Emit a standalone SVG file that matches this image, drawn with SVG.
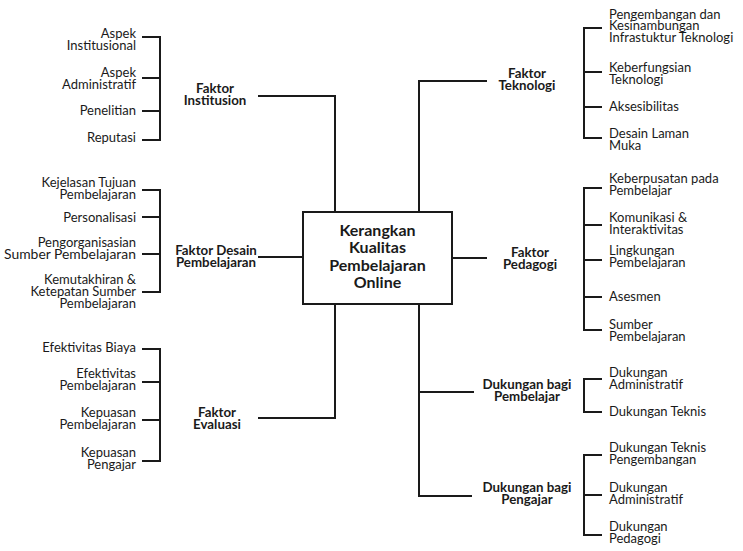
<svg xmlns="http://www.w3.org/2000/svg" width="743" height="551" viewBox="0 0 743 551">
<style>
.t{font-family:Lato,"Open Sans","DejaVu Sans",sans-serif;font-size:13px;fill:#1a1a1a}
.l{text-anchor:end}
.b{font-weight:bold;text-anchor:middle;font-size:13.3px}
.c{font-family:Lato,"Open Sans","DejaVu Sans",sans-serif;font-size:16px;font-weight:bold;text-anchor:middle;fill:#1a1a1a}
.ln{fill:none;stroke:#1a1a1a;stroke-width:2}
</style>
<rect width="743" height="551" fill="#fff"/>
<g id="connectors" class="ln">
<path d="M258,96 H335 V212"/>
<path d="M487,81 H419 V212"/>
<path d="M258,257 H302"/>
<path d="M452,258 H487"/>
<path d="M335,304 V418 H258"/>
<path d="M419,304 V496 H472"/>
<path d="M419,392 H474"/>
<path d="M142,37 H160 V140 H142 M142,78 H160 M142,111 H160"/>
<path d="M142,190 H160 V292 H142 M142,217 H160 M142,254 H160"/>
<path d="M142,349 H160 V461 H142 M142,382 H160 M142,420 H160"/>
<path d="M602,28 H584 V138 H602 M584,72 H602 M584,107 H602"/>
<path d="M602,188 H584 V330 H602 M584,225 H602 M584,260 H602 M584,297 H602"/>
<path d="M602,379 H584 V412 H602"/>
<path d="M602,455 H584 V535 H602 M584,495 H602"/>
</g>
<g id="center">
<rect x="303" y="212" width="149" height="92" fill="#fff" stroke="#1a1a1a" stroke-width="2"/>
<text class="c"><tspan x="377.5" y="235.5">Kerangkan</tspan><tspan x="377.5" y="253">Kualitas</tspan><tspan x="377.5" y="270.5">Pembelajaran</tspan><tspan x="377.5" y="288">Online</tspan></text>
</g>
<g id="faktor-institusion"><text class="t b"><tspan x="215" y="93">Faktor</tspan><tspan x="215" y="105">Institusion</tspan></text></g>
<g id="faktor-teknologi"><text class="t b"><tspan x="527" y="77.5">Faktor</tspan><tspan x="527" y="89.5">Teknologi</tspan></text></g>
<g id="faktor-desain"><text class="t b"><tspan x="216" y="255">Faktor Desain</tspan><tspan x="216" y="267">Pembelajaran</tspan></text></g>
<g id="faktor-pedagogi"><text class="t b"><tspan x="530" y="257">Faktor</tspan><tspan x="530" y="268.5">Pedagogi</tspan></text></g>
<g id="faktor-evaluasi"><text class="t b"><tspan x="217" y="417">Faktor</tspan><tspan x="217" y="429">Evaluasi</tspan></text></g>
<g id="dukungan-pembelajar"><text class="t b"><tspan x="527" y="389">Dukungan bagi</tspan><tspan x="527" y="401">Pembelajar</tspan></text></g>
<g id="dukungan-pengajar"><text class="t b"><tspan x="527" y="492">Dukungan bagi</tspan><tspan x="527" y="504">Pengajar</tspan></text></g>
<g id="aspek-institusional"><text class="t l"><tspan x="136" y="37.5">Aspek</tspan><tspan x="136" y="49.5">Institusional</tspan></text></g>
<g id="aspek-administratif"><text class="t l"><tspan x="136" y="76.5">Aspek</tspan><tspan x="136" y="88.5">Administratif</tspan></text></g>
<g id="penelitian"><text class="t l" x="136" y="115">Penelitian</text></g>
<g id="reputasi"><text class="t l" x="136" y="141.5">Reputasi</text></g>
<g id="kejelasan"><text class="t l"><tspan x="136" y="187">Kejelasan Tujuan</tspan><tspan x="136" y="199">Pembelajaran</tspan></text></g>
<g id="personalisasi"><text class="t l" x="136" y="222">Personalisasi</text></g>
<g id="pengorganisasian"><text class="t l"><tspan x="136" y="247">Pengorganisasian</tspan><tspan x="136" y="259" textLength="132" lengthAdjust="spacingAndGlyphs">Sumber Pembelajaran</tspan></text></g>
<g id="kemutakhiran"><text class="t l"><tspan x="136" y="284">Kemutakhiran &amp;</tspan><tspan x="136" y="296">Ketepatan Sumber</tspan><tspan x="136" y="308">Pembelajaran</tspan></text></g>
<g id="efektivitas-biaya"><text class="t l" x="136" y="352">Efektivitas Biaya</text></g>
<g id="efektivitas-pembelajaran"><text class="t l"><tspan x="136" y="377.5">Efektivitas</tspan><tspan x="136" y="389.5">Pembelajaran</tspan></text></g>
<g id="kepuasan-pembelajaran"><text class="t l"><tspan x="136" y="417">Kepuasan</tspan><tspan x="136" y="429">Pembelajaran</tspan></text></g>
<g id="kepuasan-pengajar"><text class="t l"><tspan x="136" y="457">Kepuasan</tspan><tspan x="136" y="469">Pengajar</tspan></text></g>
<g id="infrastruktur"><text class="t"><tspan x="609" y="18.5">Pengembangan dan</tspan><tspan x="609" y="30">Kesinambungan</tspan><tspan x="609" y="41.5">Infrastuktur Teknologi</tspan></text></g>
<g id="keberfungsian"><text class="t"><tspan x="609" y="71.5">Keberfungsian</tspan><tspan x="609" y="83.5">Teknologi</tspan></text></g>
<g id="aksesibilitas"><text class="t" x="609" y="111">Aksesibilitas</text></g>
<g id="desain-laman"><text class="t"><tspan x="609" y="137.5">Desain Laman</tspan><tspan x="609" y="149.5">Muka</tspan></text></g>
<g id="keberpusatan"><text class="t"><tspan x="609" y="182.5">Keberpusatan pada</tspan><tspan x="609" y="194.5">Pembelajar</tspan></text></g>
<g id="komunikasi"><text class="t"><tspan x="609" y="222">Komunikasi &amp;</tspan><tspan x="609" y="234">Interaktivitas</tspan></text></g>
<g id="lingkungan"><text class="t"><tspan x="609" y="255">Lingkungan</tspan><tspan x="609" y="267">Pembelajaran</tspan></text></g>
<g id="asesmen"><text class="t" x="609" y="301">Asesmen</text></g>
<g id="sumber"><text class="t"><tspan x="609" y="329">Sumber</tspan><tspan x="609" y="341">Pembelajaran</tspan></text></g>
<g id="pb-administratif"><text class="t"><tspan x="609" y="377">Dukungan</tspan><tspan x="609" y="389">Administratif</tspan></text></g>
<g id="pb-teknis"><text class="t" x="609" y="416">Dukungan Teknis</text></g>
<g id="pg-teknis"><text class="t"><tspan x="609" y="452">Dukungan Teknis</tspan><tspan x="609" y="464">Pengembangan</tspan></text></g>
<g id="pg-administratif"><text class="t"><tspan x="609" y="492">Dukungan</tspan><tspan x="609" y="504">Administratif</tspan></text></g>
<g id="pg-pedagogi"><text class="t"><tspan x="609" y="531">Dukungan</tspan><tspan x="609" y="543">Pedagogi</tspan></text></g>
</svg>
